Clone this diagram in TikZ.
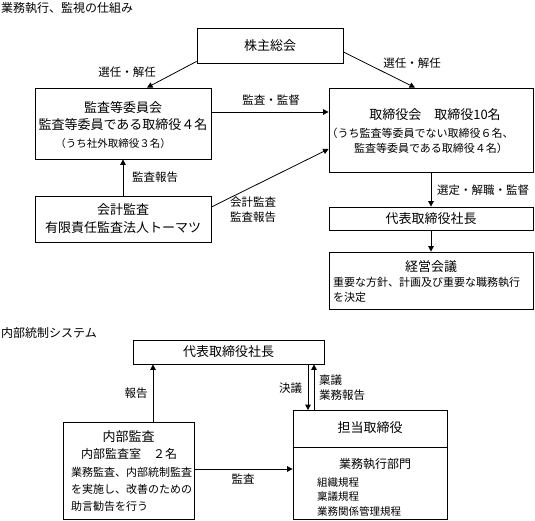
\documentclass[tikz,border=0pt]{standalone}
\usepackage{fontspec}
\setmainfont{Noto Sans CJK JP}
\usetikzlibrary{arrows.meta}
\begin{document}
\begin{tikzpicture}[x=1pt,y=-1pt,
  box/.style={draw, line width=0.8pt, inner sep=0pt},
  arr/.style={line width=0.8pt, -{Triangle[length=5.5pt,width=5.5pt]}},
  ln/.style={line width=0.8pt},
  big/.style={inner sep=0pt, font=\fontsize{13}{15}\selectfont},
  mid/.style={inner sep=0pt, font=\fontsize{12}{14}\selectfont},
  sml/.style={inner sep=0pt, font=\fontsize{11}{13}\selectfont},
  tiny/.style={inner sep=0pt, font=\fontsize{10.5}{12}\selectfont},
  lbl/.style={inner sep=0pt, font=\fontsize{11.5}{14}\selectfont},
]
\useasboundingbox (0,0) rectangle (535,521);

% titles
\node[mid, anchor=west] (title1) at (1,8) {業務執行、監視の仕組み};
\node[mid, anchor=west] (title2) at (1,333) {内部統制システム};

% boxes of the upper part
\node[box, minimum width=146pt, minimum height=35pt] (sh) at (270,45.5) {};
\node[big] (shT) at (sh) {株主総会};

\node[box, minimum width=176pt, minimum height=71pt] (kansa) at (123,123.5) {};
\node[big] (kansaT1) at (123,108) {監査等委員会};
\node[big] (kansaT2) at (123,125) {監査等委員である取締役４名};
\node[tiny] (kansaT3) at (113,144) {（うち社外取締役３名）};

\node[box, minimum width=176pt, minimum height=46pt] (kaikei) at (123,219) {};
\node[big] (kaikeiT1) at (123,210) {会計監査};
\node[big] (kaikeiT2) at (123,228) {有限責任監査法人トーマツ};

\node[box, minimum width=204pt, minimum height=84pt] (tori) at (431,130) {};
\node[big] (toriT1) at (435,115) {取締役会　取締役10名};
\node[sml] (toriT2) at (420,133) {（うち監査等委員でない取締役６名、};
\node[sml] (toriT3) at (431,148) {監査等委員である取締役４名）};

\node[box, minimum width=204pt, minimum height=23pt] (daihyo) at (431,218.5) {};
\node[big] (daihyoT) at (daihyo) {代表取締役社長};

\node[box, minimum width=204pt, minimum height=57pt] (keiei) at (431,280.5) {};
\node[big] (keieiT1) at (431,267) {経営会議};
\node[sml, anchor=west] (keieiT2) at (333,282) {重要な方針、計画及び重要な職務執行};
\node[sml, anchor=west] (keieiT3) at (333,297) {を決定};

% connectors of the upper part
\draw[arr] ([yshift=2pt]sh.south west) -- ([xshift=24pt]kansa.north);
\draw[arr] ([yshift=-6.5pt]sh.east) -- ([xshift=-16pt]tori.north);
\draw[arr] ([yshift=11.5pt]kansa.east) -- ([yshift=18pt]tori.west);
\draw[arr] (kaikei.north) -- (kansa.south);
\draw[arr] ([yshift=12pt]kaikei.east) -- ([yshift=-19pt]tori.west);
\draw[arr] (tori.south) -- (daihyo.north);
\draw[arr] (daihyo.south) -- (keiei.north);

\node[lbl] (l1) at (127,72) {選任・解任};
\node[lbl] (l2) at (412,63) {選任・解任};
\node[lbl] (l3) at (271,100) {監査・監督};
\node[lbl] (l4) at (155,177) {監査報告};
\node[lbl, align=left, anchor=west, font=\fontsize{11.5}{15}\selectfont] (l5) at (230,209.5) {会計監査\\監査報告};
\node[lbl, anchor=west] (l6) at (437,190) {選定・解職・監督};

% lower part
\node[box, minimum width=191pt, minimum height=24pt] (daihyo2) at (228.5,352) {};
\node[big] (daihyo2T) at (daihyo2) {代表取締役社長};

\node[box, minimum width=131pt, minimum height=97pt] (naibu) at (128.5,470.5) {};
\node[big] (naibuT1) at (128.5,437) {内部監査};
\node[mid] (naibuT2) at (129,454) {内部監査室　２名};
\node[sml, anchor=west] (naibuT3) at (71,472) {業務監査、内部統制監査};
\node[sml, anchor=west] (naibuT4) at (71,489) {を実施し、改善のための};
\node[sml, anchor=west] (naibuT5) at (71,506) {助言勧告を行う};

\node[box, minimum width=154pt, minimum height=109pt] (tanto) at (370,465) {};
\draw[ln] (tanto.west |- 0,447) -- (tanto.east |- 0,447);
\node[big] (tantoT1) at (370,428) {担当取締役};
\node[mid] (tantoT2) at (375,464) {業務執行部門};
\node[tiny, anchor=west] (tantoT3) at (317,483) {組織規程};
\node[tiny, anchor=west] (tantoT4) at (317,497) {稟議規程};
\node[tiny, anchor=west] (tantoT5) at (317,511) {業務関係管理規程};

\draw[arr] ([xshift=24.5pt]naibu.north) -- ([xshift=-75.5pt]daihyo2.south);
\draw[arr] ([xshift=79.5pt]daihyo2.south) -- ([xshift=-62pt]tanto.north);
\draw[arr] ([xshift=-56pt]tanto.north) -- ([xshift=85.5pt]daihyo2.south);
\draw[arr] ([yshift=1.5pt]naibu.east) -- ([yshift=-4pt]tanto.west);

\node[lbl] (m1) at (136,393) {報告};
\node[lbl] (m2) at (290.5,388) {決議};
\node[lbl, align=left, anchor=west, font=\fontsize{11.5}{15}\selectfont] (m3) at (319,387.5) {稟議\\業務報告};
\node[lbl] (m4) at (243,479) {監査};
\end{tikzpicture}
\end{document}
